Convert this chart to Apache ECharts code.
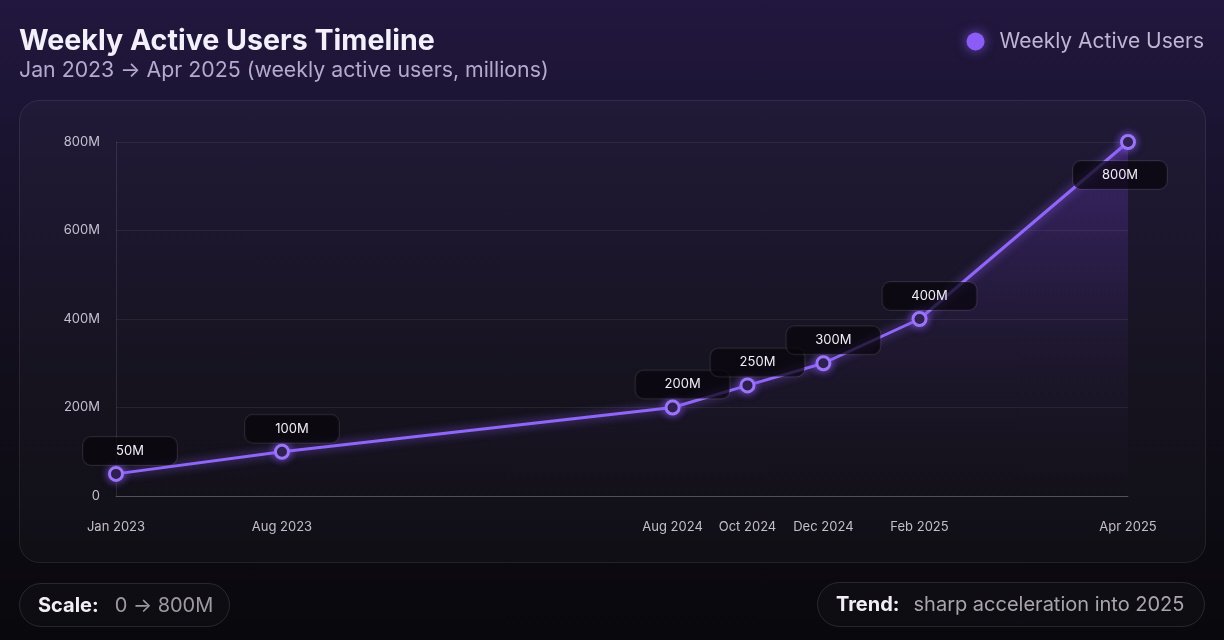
<!DOCTYPE html>
<html>
<head>
<meta charset="utf-8">
<script src="https://cdn.jsdelivr.net/npm/echarts@6/dist/echarts.min.js"></script>
<style>
  html, body { margin: 0; padding: 0; width: 1224px; height: 640px; overflow: hidden; }
  body { background: linear-gradient(180deg, #22173f 0%, #1a1430 22%, #110e1a 60%, #09080c 100%); }
  #chart { width: 1224px; height: 640px; }
</style>
</head>
<body>
<div id="chart"></div>
<script>
// ---- data ----
const milestones = ['Jan 2023', 'Aug 2023', 'Aug 2024', 'Oct 2024', 'Dec 2024', 'Feb 2025', 'Apr 2025'];
const timelinePos = [0, 16.4, 55.0, 62.4, 69.9, 79.4, 100];   // position along the timeline axis (0–100)
const weeklyUsers = [50, 100, 200, 250, 300, 400, 800];        // millions
const yTicks = [0, 200, 400, 600, 800];
const seriesName = 'Weekly Active Users';

const FONT = 'Inter, "Noto Sans", sans-serif';
const VIOLET = '#8b5cf6';

const seriesData = weeklyUsers.map((v, i) => {
  const item = { value: [timelinePos[i], v] };
  if (i === weeklyUsers.length - 1) {
    item.label = { position: 'bottom', offset: [-8, 0], distance: 25 };
  } else if (i === 0) {
    item.label = { offset: [14, 0] };
  }
  return item;
});

const chart = echarts.init(document.getElementById('chart'), null, { renderer: 'canvas' });

chart.setOption({
  backgroundColor: 'transparent',
  textStyle: { fontFamily: FONT },
  title: {
    text: 'Weekly Active Users Timeline',
    subtext: 'Jan 2023 \u2192 Apr 2025 (weekly active users, millions)',
    left: 14, top: 22, itemGap: 4,
    textStyle: { fontFamily: FONT, fontSize: 28.6, fontWeight: 700, color: '#f4f0fb' },
    subtextStyle: { fontFamily: FONT, fontSize: 21.3, color: '#b4a9cf' }
  },
  legend: {
    top: 26, right: 15,
    icon: 'circle', itemWidth: 18, itemHeight: 18, itemGap: 10,
    itemStyle: { color: VIOLET, borderWidth: 0, shadowBlur: 12, shadowColor: 'rgba(139,92,246,0.75)' },
    textStyle: { fontFamily: FONT, fontSize: 21, color: '#bfb6d4', padding: [0, 0, 0, 10] },
    data: [seriesName]
  },
  grid: { left: 116, right: 96, top: 142, bottom: 144 },
  xAxis: {
    type: 'value', min: 0, max: 100,
    splitLine: { show: false },
    axisLine: { show: true, lineStyle: { color: 'rgba(255,255,255,0.22)', width: 1 } },
    axisTick: { show: false },
    axisLabel: {
      customValues: timelinePos,
      margin: 25,
      color: '#c3bdcc', fontSize: 13, fontFamily: FONT,
      formatter: (val) => {
        const idx = timelinePos.findIndex(p => Math.abs(p - val) < 1e-6);
        return idx >= 0 ? milestones[idx] : '';
      }
    }
  },
  yAxis: {
    type: 'value', min: 0, max: 800, interval: 200,
    axisLine: { show: true, lineStyle: { color: 'rgba(255,255,255,0.1)' } },
    axisTick: { show: false },
    splitLine: { lineStyle: { color: 'rgba(255,255,255,0.07)' } },
    axisLabel: {
      margin: 16, color: '#c6bfd2', fontSize: 13, fontFamily: FONT,
      formatter: (v) => (yTicks.includes(v) ? (v === 0 ? '0' : v + 'M') : '')
    }
  },
  graphic: [
    {
      type: 'rect', z: -10, silent: true,
      shape: { x: 19.5, y: 100.5, width: 1186, height: 462, r: 20 },
      style: { fill: 'rgba(255,255,255,0.022)', stroke: 'rgba(255,255,255,0.09)', lineWidth: 1 }
    },
    {
      type: 'rect', z: -10, silent: true,
      shape: { x: 19.5, y: 583.5, width: 210, height: 43, r: 21.5 },
      style: { fill: 'rgba(255,255,255,0.02)', stroke: 'rgba(255,255,255,0.12)', lineWidth: 1 }
    },
    {
      type: 'text', silent: true, x: 38, y: 606,
      style: {
        text: '{b|Scale:}{v|0 \u2192 800M}',
        verticalAlign: 'middle',
        rich: {
          b: { fontFamily: FONT, fontSize: 20, fontWeight: 700, fill: '#f1eef5', padding: [0, 16, 0, 0] },
          v: { fontFamily: FONT, fontSize: 20, fill: '#9d9aa3' }
        }
      }
    },
    {
      type: 'rect', z: -10, silent: true,
      shape: { x: 817.5, y: 582.5, width: 387, height: 44, r: 22 },
      style: { fill: 'rgba(255,255,255,0.02)', stroke: 'rgba(255,255,255,0.12)', lineWidth: 1 }
    },
    {
      type: 'text', silent: true, x: 836, y: 605,
      style: {
        text: '{b|Trend:}{v|sharp acceleration into 2025}',
        verticalAlign: 'middle',
        rich: {
          b: { fontFamily: FONT, fontSize: 20, fontWeight: 700, fill: '#f1eef5', padding: [0, 14, 0, 0] },
          v: { fontFamily: FONT, fontSize: 20, fill: '#a8a5ae' }
        }
      }
    }
  ],
  series: [{
    name: seriesName,
    type: 'line',
    data: seriesData,
    symbol: 'circle',
    symbolSize: 13,
    z: 3,
    lineStyle: {
      width: 3, color: '#8f66f7',
      shadowBlur: 10, shadowColor: 'rgba(139,92,246,0.85)'
    },
    itemStyle: {
      color: '#0c0a12', borderColor: '#9b74f8', borderWidth: 3,
      shadowBlur: 8, shadowColor: 'rgba(139,92,246,0.8)'
    },
    areaStyle: {
      color: new echarts.graphic.LinearGradient(0, 0, 0, 1, [
        { offset: 0, color: 'rgba(124,62,230,0.42)' },
        { offset: 0.55, color: 'rgba(110,60,200,0.12)' },
        { offset: 1, color: 'rgba(100,60,180,0)' }
      ]),
      origin: 'start'
    },
    label: {
      show: true, position: 'top', distance: 15, offset: [10, 0],
      formatter: (p) => p.value[1] + 'M',
      color: '#f2eef8', fontSize: 13, fontFamily: FONT,
      backgroundColor: 'rgba(8,6,12,0.72)',
      borderColor: 'rgba(255,255,255,0.09)', borderWidth: 1, borderRadius: 8,
      width: 94, height: 28, lineHeight: 28, align: 'center', verticalAlign: 'middle'
    },
    emphasis: { disabled: true }
  }]
});
</script>
</body>
</html>
